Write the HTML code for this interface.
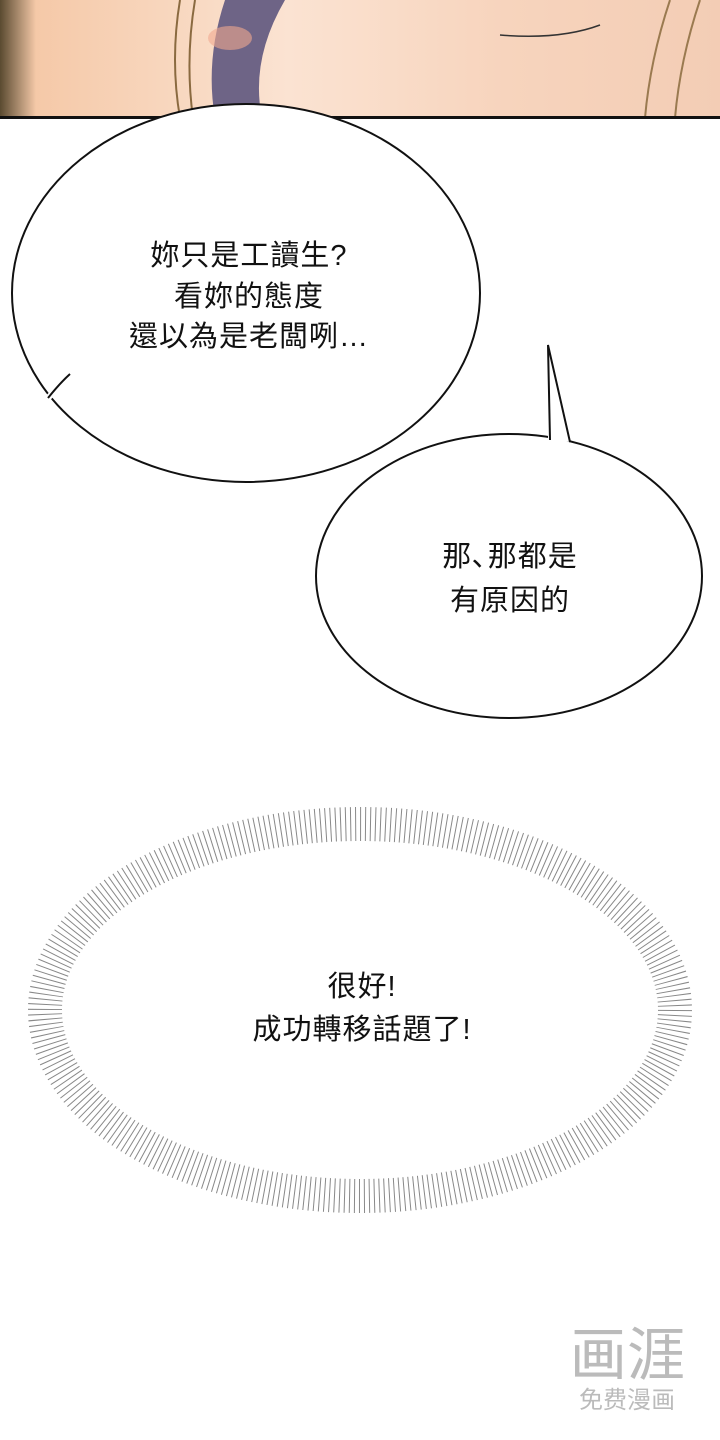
<!DOCTYPE html>
<html><head><meta charset="utf-8"><style>
body{margin:0;background:#fff;}
svg{display:block}
text{font-family:"Liberation Sans","Noto Sans CJK TC",sans-serif;font-size:29px;fill:#111;text-anchor:middle;letter-spacing:1px}
</style></head><body>
<svg width="720" height="1440" viewBox="0 0 720 1440">
<defs>
<linearGradient id="sk" x1="0" x2="1" y1="0" y2="0">
<stop offset="0" stop-color="#5a4a30"/><stop offset="0.05" stop-color="#f5c9a8"/><stop offset="0.4" stop-color="#fbe3d2"/><stop offset="0.7" stop-color="#f7d4bd"/><stop offset="1" stop-color="#f3cdb5"/>
</linearGradient>
</defs>
<rect x="0" y="0" width="720" height="118" fill="url(#sk)"/>
<path d="M225 0 Q205 60 215 118 L262 118 Q250 60 285 0Z" fill="#6e6486"/>
<path d="M180 0 Q170 60 180 118" stroke="#8a6a40" fill="none" stroke-width="2"/>
<path d="M195 0 Q185 60 193 118" stroke="#8a6a40" fill="none" stroke-width="2"/>
<path d="M670 0 Q650 60 645 118 M700 0 Q680 60 675 118" stroke="#9a7a50" fill="none" stroke-width="2"/>
<path d="M500 35 Q560 40 600 25" stroke="#333" fill="none" stroke-width="1.5"/>
<ellipse cx="230" cy="38" rx="22" ry="12" fill="#f0a890" opacity="0.6"/>
<rect x="0" y="116" width="720" height="3" fill="#111"/>

<ellipse cx="246" cy="293" rx="234" ry="189" fill="#fff" stroke="#111" stroke-width="2"/>
<path d="M48 398 L70 375" stroke="#fff" stroke-width="6"/>
<path d="M48 398 Q60 383 70 374" stroke="#111" stroke-width="2" fill="none"/>
<text x="249" y="265">妳只是工讀生?</text>
<text x="249" y="306">看妳的態度</text>
<text x="249" y="346">還以為是老闆咧…</text>

<ellipse cx="509" cy="576" rx="193" ry="142" fill="#fff" stroke="#111" stroke-width="2"/>
<path d="M548 440 L548 345 L570 442 Z" fill="#fff"/>
<path d="M550 440 L548 345 L570 442" stroke="#111" stroke-width="2" fill="none"/>
<text x="510" y="566">那､那都是</text>
<text x="510" y="610">有原因的</text>

<ellipse cx="360" cy="1010" rx="315" ry="186" fill="none" stroke="#555" stroke-width="34" stroke-dasharray="1 4" opacity="0.7"/>
<text x="362" y="996">很好!</text>
<text x="362" y="1039">成功轉移話題了!</text>

<g>
<text x="627" y="1375" style="font-size:58px;fill:#bbb;letter-spacing:0">画涯</text>
<text x="627" y="1408" style="font-size:24px;fill:#bbb;letter-spacing:0">免费漫画</text>
</g>
</svg>
</body></html>
